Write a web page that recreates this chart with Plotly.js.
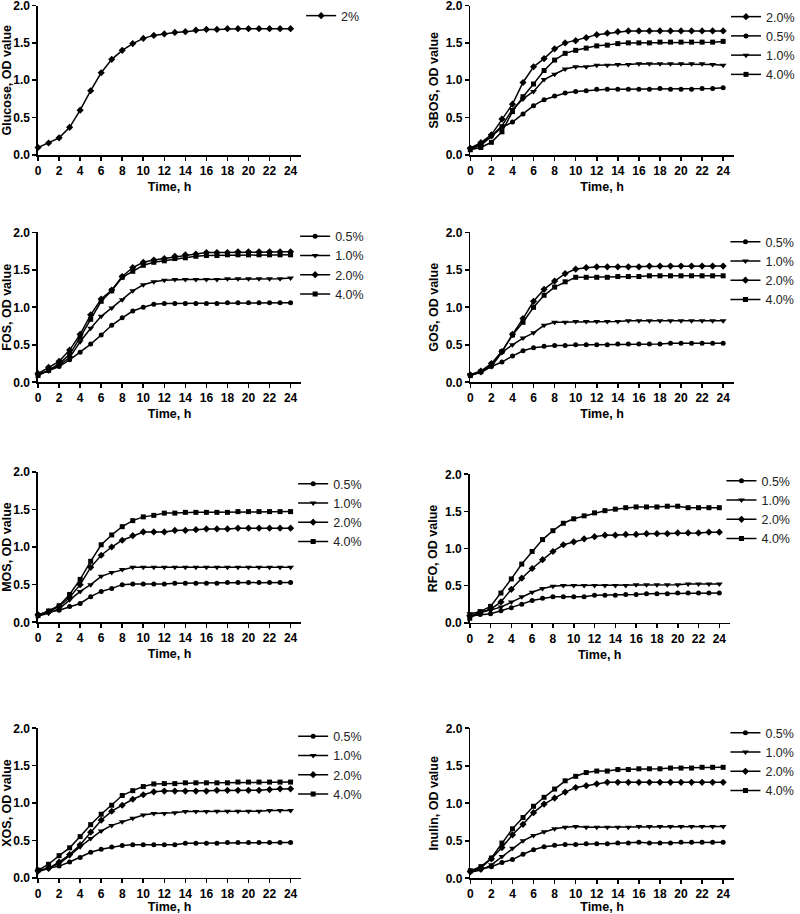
<!DOCTYPE html>
<html>
<head>
<meta charset="utf-8">
<script src="https://cdn.plot.ly/plotly-3.0.1.min.js"></script>
<style>html,body{margin:0;padding:0;background:#fff;}#chart{width:800px;height:914px;}</style>
</head>
<body>
<div id="chart"></div>
<script>
// ---------- DATA ----------
const timeH = [0,1,2,3,4,5,6,7,8,9,10,11,12,13,14,15,16,17,18,19,20,21,22,23,24];
const xTicks = [0,2,4,6,8,10,12,14,16,18,20,22,24];

const panelNames = ["Glucose","SBOS","FOS","GOS","MOS","RFO","XOS","Inulin"];

const glucose2 = [0.10,0.16,0.23,0.37,0.60,0.86,1.10,1.28,1.40,1.49,1.56,1.60,1.62,1.64,1.65,1.67,1.68,1.68,1.69,1.69,1.69,1.69,1.69,1.69,1.69];

const sbos20 = [0.09,0.165,0.27,0.48,0.68,0.97,1.18,1.29,1.42,1.50,1.53,1.57,1.61,1.63,1.65,1.66,1.66,1.66,1.66,1.66,1.66,1.66,1.66,1.66,1.66];
const sbos05 = [0.09,0.15,0.25,0.37,0.44,0.55,0.66,0.74,0.79,0.83,0.85,0.86,0.88,0.88,0.88,0.88,0.88,0.88,0.89,0.88,0.88,0.88,0.89,0.89,0.90];
const sbos10 = [0.08,0.13,0.25,0.39,0.61,0.75,0.85,1.01,1.08,1.15,1.18,1.18,1.20,1.20,1.21,1.21,1.22,1.22,1.22,1.22,1.22,1.22,1.22,1.21,1.20];
const sbos40 = [0.07,0.10,0.17,0.31,0.58,0.78,0.95,1.13,1.27,1.36,1.40,1.43,1.46,1.47,1.49,1.50,1.50,1.50,1.51,1.51,1.51,1.51,1.51,1.51,1.52];

const fos05 = [0.10,0.155,0.21,0.30,0.40,0.51,0.63,0.76,0.86,0.95,1.00,1.04,1.05,1.05,1.05,1.05,1.05,1.05,1.06,1.06,1.06,1.06,1.06,1.06,1.06];
const fos10 = [0.11,0.155,0.23,0.33,0.54,0.72,0.88,0.99,1.10,1.22,1.30,1.34,1.36,1.37,1.37,1.37,1.37,1.37,1.38,1.38,1.38,1.38,1.38,1.38,1.39];
const fos20 = [0.115,0.20,0.28,0.43,0.64,0.90,1.11,1.23,1.41,1.53,1.60,1.63,1.65,1.68,1.70,1.71,1.73,1.73,1.73,1.74,1.74,1.74,1.74,1.74,1.74];
const fos40 = [0.09,0.16,0.25,0.37,0.60,0.84,1.08,1.22,1.40,1.48,1.56,1.60,1.62,1.65,1.66,1.68,1.69,1.69,1.70,1.70,1.70,1.70,1.70,1.70,1.70];

const gos05 = [0.09,0.14,0.21,0.27,0.35,0.42,0.46,0.48,0.49,0.49,0.50,0.50,0.50,0.50,0.51,0.51,0.51,0.51,0.51,0.52,0.52,0.52,0.52,0.52,0.52];
const gos10 = [0.10,0.13,0.21,0.40,0.50,0.59,0.66,0.76,0.80,0.80,0.81,0.81,0.81,0.81,0.81,0.82,0.82,0.82,0.82,0.82,0.82,0.82,0.82,0.82,0.82];
const gos20 = [0.10,0.15,0.25,0.41,0.64,0.85,1.08,1.24,1.35,1.45,1.51,1.53,1.54,1.54,1.54,1.54,1.54,1.55,1.55,1.55,1.55,1.55,1.55,1.55,1.55];
const gos40 = [0.09,0.14,0.24,0.41,0.63,0.80,1.00,1.16,1.27,1.34,1.40,1.40,1.40,1.40,1.41,1.41,1.41,1.42,1.42,1.42,1.42,1.42,1.42,1.42,1.42];

const mos05 = [0.10,0.14,0.16,0.21,0.25,0.34,0.41,0.45,0.50,0.51,0.51,0.51,0.51,0.52,0.52,0.52,0.52,0.52,0.53,0.53,0.53,0.53,0.53,0.53,0.53];
const mos10 = [0.085,0.12,0.18,0.30,0.41,0.50,0.61,0.66,0.70,0.73,0.73,0.73,0.73,0.73,0.73,0.73,0.73,0.73,0.73,0.73,0.73,0.73,0.73,0.73,0.73];
const mos20 = [0.10,0.14,0.21,0.33,0.50,0.73,0.89,1.00,1.09,1.15,1.20,1.20,1.20,1.22,1.22,1.23,1.24,1.24,1.24,1.25,1.25,1.25,1.25,1.25,1.25];
const mos40 = [0.09,0.15,0.22,0.37,0.57,0.81,1.03,1.16,1.27,1.35,1.40,1.42,1.45,1.45,1.46,1.46,1.46,1.46,1.46,1.47,1.47,1.47,1.47,1.47,1.47];

const rfo05 = [0.09,0.11,0.12,0.16,0.20,0.25,0.30,0.33,0.35,0.35,0.35,0.35,0.37,0.37,0.37,0.38,0.38,0.39,0.39,0.39,0.40,0.40,0.40,0.40,0.40];
const rfo10 = [0.12,0.14,0.17,0.21,0.28,0.35,0.41,0.46,0.49,0.50,0.50,0.50,0.50,0.50,0.50,0.50,0.51,0.51,0.51,0.51,0.51,0.52,0.52,0.52,0.52];
const rfo20 = [0.095,0.13,0.18,0.28,0.45,0.60,0.73,0.85,0.96,1.05,1.09,1.13,1.16,1.18,1.18,1.19,1.19,1.20,1.20,1.20,1.21,1.21,1.21,1.22,1.22];
const rfo40 = [0.06,0.15,0.22,0.40,0.59,0.79,0.96,1.12,1.24,1.34,1.40,1.44,1.48,1.51,1.53,1.55,1.56,1.56,1.56,1.57,1.57,1.55,1.55,1.55,1.55];

const xos05 = [0.095,0.125,0.155,0.21,0.27,0.34,0.38,0.41,0.43,0.44,0.44,0.44,0.44,0.44,0.46,0.46,0.46,0.46,0.47,0.47,0.47,0.47,0.47,0.47,0.47];
const xos10 = [0.08,0.125,0.19,0.295,0.415,0.525,0.625,0.70,0.75,0.795,0.84,0.86,0.86,0.87,0.885,0.885,0.885,0.89,0.89,0.89,0.89,0.89,0.90,0.90,0.90];
const xos20 = [0.095,0.125,0.21,0.31,0.44,0.61,0.77,0.89,0.97,1.05,1.11,1.15,1.16,1.16,1.16,1.16,1.16,1.17,1.17,1.17,1.17,1.17,1.18,1.19,1.19];
const xos40 = [0.10,0.18,0.295,0.40,0.55,0.71,0.85,0.97,1.10,1.165,1.22,1.255,1.26,1.26,1.27,1.27,1.27,1.27,1.27,1.28,1.28,1.28,1.28,1.28,1.28];

const inu05 = [0.09,0.12,0.155,0.21,0.25,0.32,0.38,0.42,0.44,0.45,0.45,0.46,0.46,0.46,0.47,0.47,0.48,0.47,0.47,0.47,0.48,0.48,0.48,0.48,0.48];
const inu10 = [0.08,0.11,0.18,0.29,0.40,0.50,0.57,0.62,0.66,0.68,0.69,0.68,0.68,0.68,0.68,0.68,0.69,0.69,0.69,0.69,0.69,0.69,0.69,0.69,0.69];
const inu20 = [0.09,0.14,0.26,0.41,0.58,0.72,0.875,0.99,1.07,1.15,1.21,1.235,1.26,1.28,1.28,1.28,1.28,1.28,1.28,1.28,1.28,1.28,1.28,1.28,1.28];
const inu40 = [0.10,0.155,0.27,0.47,0.66,0.81,0.96,1.08,1.19,1.30,1.36,1.41,1.43,1.43,1.45,1.45,1.46,1.46,1.46,1.47,1.47,1.47,1.48,1.48,1.48];

// series per panel: [label, values, symbol]
const panelSeries = [
  [["2%", glucose2, "diamond"]],
  [["2.0%", sbos20, "diamond"], ["0.5%", sbos05, "circle"], ["1.0%", sbos10, "triangle-down"], ["4.0%", sbos40, "square"]],
  [["0.5%", fos05, "circle"], ["1.0%", fos10, "triangle-down"], ["2.0%", fos20, "diamond"], ["4.0%", fos40, "square"]],
  [["0.5%", gos05, "circle"], ["1.0%", gos10, "triangle-down"], ["2.0%", gos20, "diamond"], ["4.0%", gos40, "square"]],
  [["0.5%", mos05, "circle"], ["1.0%", mos10, "triangle-down"], ["2.0%", mos20, "diamond"], ["4.0%", mos40, "square"]],
  [["0.5%", rfo05, "circle"], ["1.0%", rfo10, "triangle-down"], ["2.0%", rfo20, "diamond"], ["4.0%", rfo40, "square"]],
  [["0.5%", xos05, "circle"], ["1.0%", xos10, "triangle-down"], ["2.0%", xos20, "diamond"], ["4.0%", xos40, "square"]],
  [["0.5%", inu05, "circle"], ["1.0%", inu10, "triangle-down"], ["2.0%", inu20, "diamond"], ["4.0%", inu40, "square"]]
];

// ---------- LAYOUT (pixel boxes) ----------
const W = 800, H = 914;
// [left, right, top, bottom] of each plot area in px
const boxes = [
  [38.3, 303, 5.5, 155],
  [473.3, 738.3, 5.5, 155],
  [38.3, 303, 232.3, 382.3],
  [473.3, 738.3, 232.3, 382.3],
  [38.3, 303, 471.7, 622.3],
  [472.7, 734.3, 474.3, 622.7],
  [38.3, 303, 728.3, 877.7],
  [473.3, 738.3, 728.3, 878.3]
];
// legend [left px, center y px]
const legendPos = [
  [303, 16], [731, 45.5], [297, 265], [730, 270.5],
  [295, 512.5], [726, 509.7], [295, 765], [730, 761.7]
];
const symSize = {"circle": 5, "diamond": 5.5, "triangle-down": 6, "square": 5};

const FONT = "Liberation Sans, Arial, sans-serif";
const traces = [];
const layout = {
  width: W, height: H,
  margin: {l: 0, r: 0, t: 0, b: 0},
  paper_bgcolor: "#fff", plot_bgcolor: "#fff",
  font: {family: FONT, color: "#000"},
  showlegend: true
};

panelSeries.forEach((series, p) => {
  const n = p + 1;
  const xa = "xaxis" + (n === 1 ? "" : n), ya = "yaxis" + (n === 1 ? "" : n);
  const xr = "x" + (n === 1 ? "" : n), yr = "y" + (n === 1 ? "" : n);
  const lg = "legend" + (n === 1 ? "" : n);
  const b = boxes[p];
  const axisCommon = {
    showline: true, linecolor: "#000", linewidth: 1.6,
    ticks: "outside", ticklen: 4, tickwidth: 1.6, tickcolor: "#000",
    showgrid: false, zeroline: false, mirror: false,
    ticklabeloverflow: "allow",
    tickfont: {family: FONT, size: 12, color: "#000", weight: "bold"}
  };
  layout[xa] = Object.assign({}, axisCommon, {
    domain: [b[0] / W, b[1] / W], anchor: yr, range: [0, 25],
    tickmode: "array", tickvals: xTicks,
    title: {text: "Time, h", font: {family: FONT, size: 12.5, weight: "bold", color: "#000"}, standoff: 5}
  });
  layout[ya] = Object.assign({}, axisCommon, {
    domain: [1 - b[3] / H, 1 - b[2] / H], anchor: xr, range: [0, 2],
    dtick: 0.5, tick0: 0, tickformat: ".1f",
    title: {text: panelNames[p] + ", OD value", font: {family: FONT, size: 12.5, weight: "bold", color: "#000"}, standoff: 4}
  });
  layout[lg] = {
    x: legendPos[p][0] / W, xanchor: "left",
    y: 1 - legendPos[p][1] / H, yanchor: "middle",
    bgcolor: "rgba(0,0,0,0)", borderwidth: 0,
    font: {family: FONT, size: 12.5, color: "#222"}
  };
  series.forEach(s => {
    traces.push({
      type: "scatter", mode: "lines+markers",
      x: timeH, y: s[1], name: s[0],
      xaxis: xr, yaxis: yr, legend: lg,
      cliponaxis: false,
      line: {color: "#000", width: 1.5},
      marker: {symbol: s[2], size: symSize[s[2]], color: "#000"}
    });
  });
});

Plotly.newPlot("chart", traces, layout, {displayModeBar: false, staticPlot: true});
</script>
</body>
</html>
